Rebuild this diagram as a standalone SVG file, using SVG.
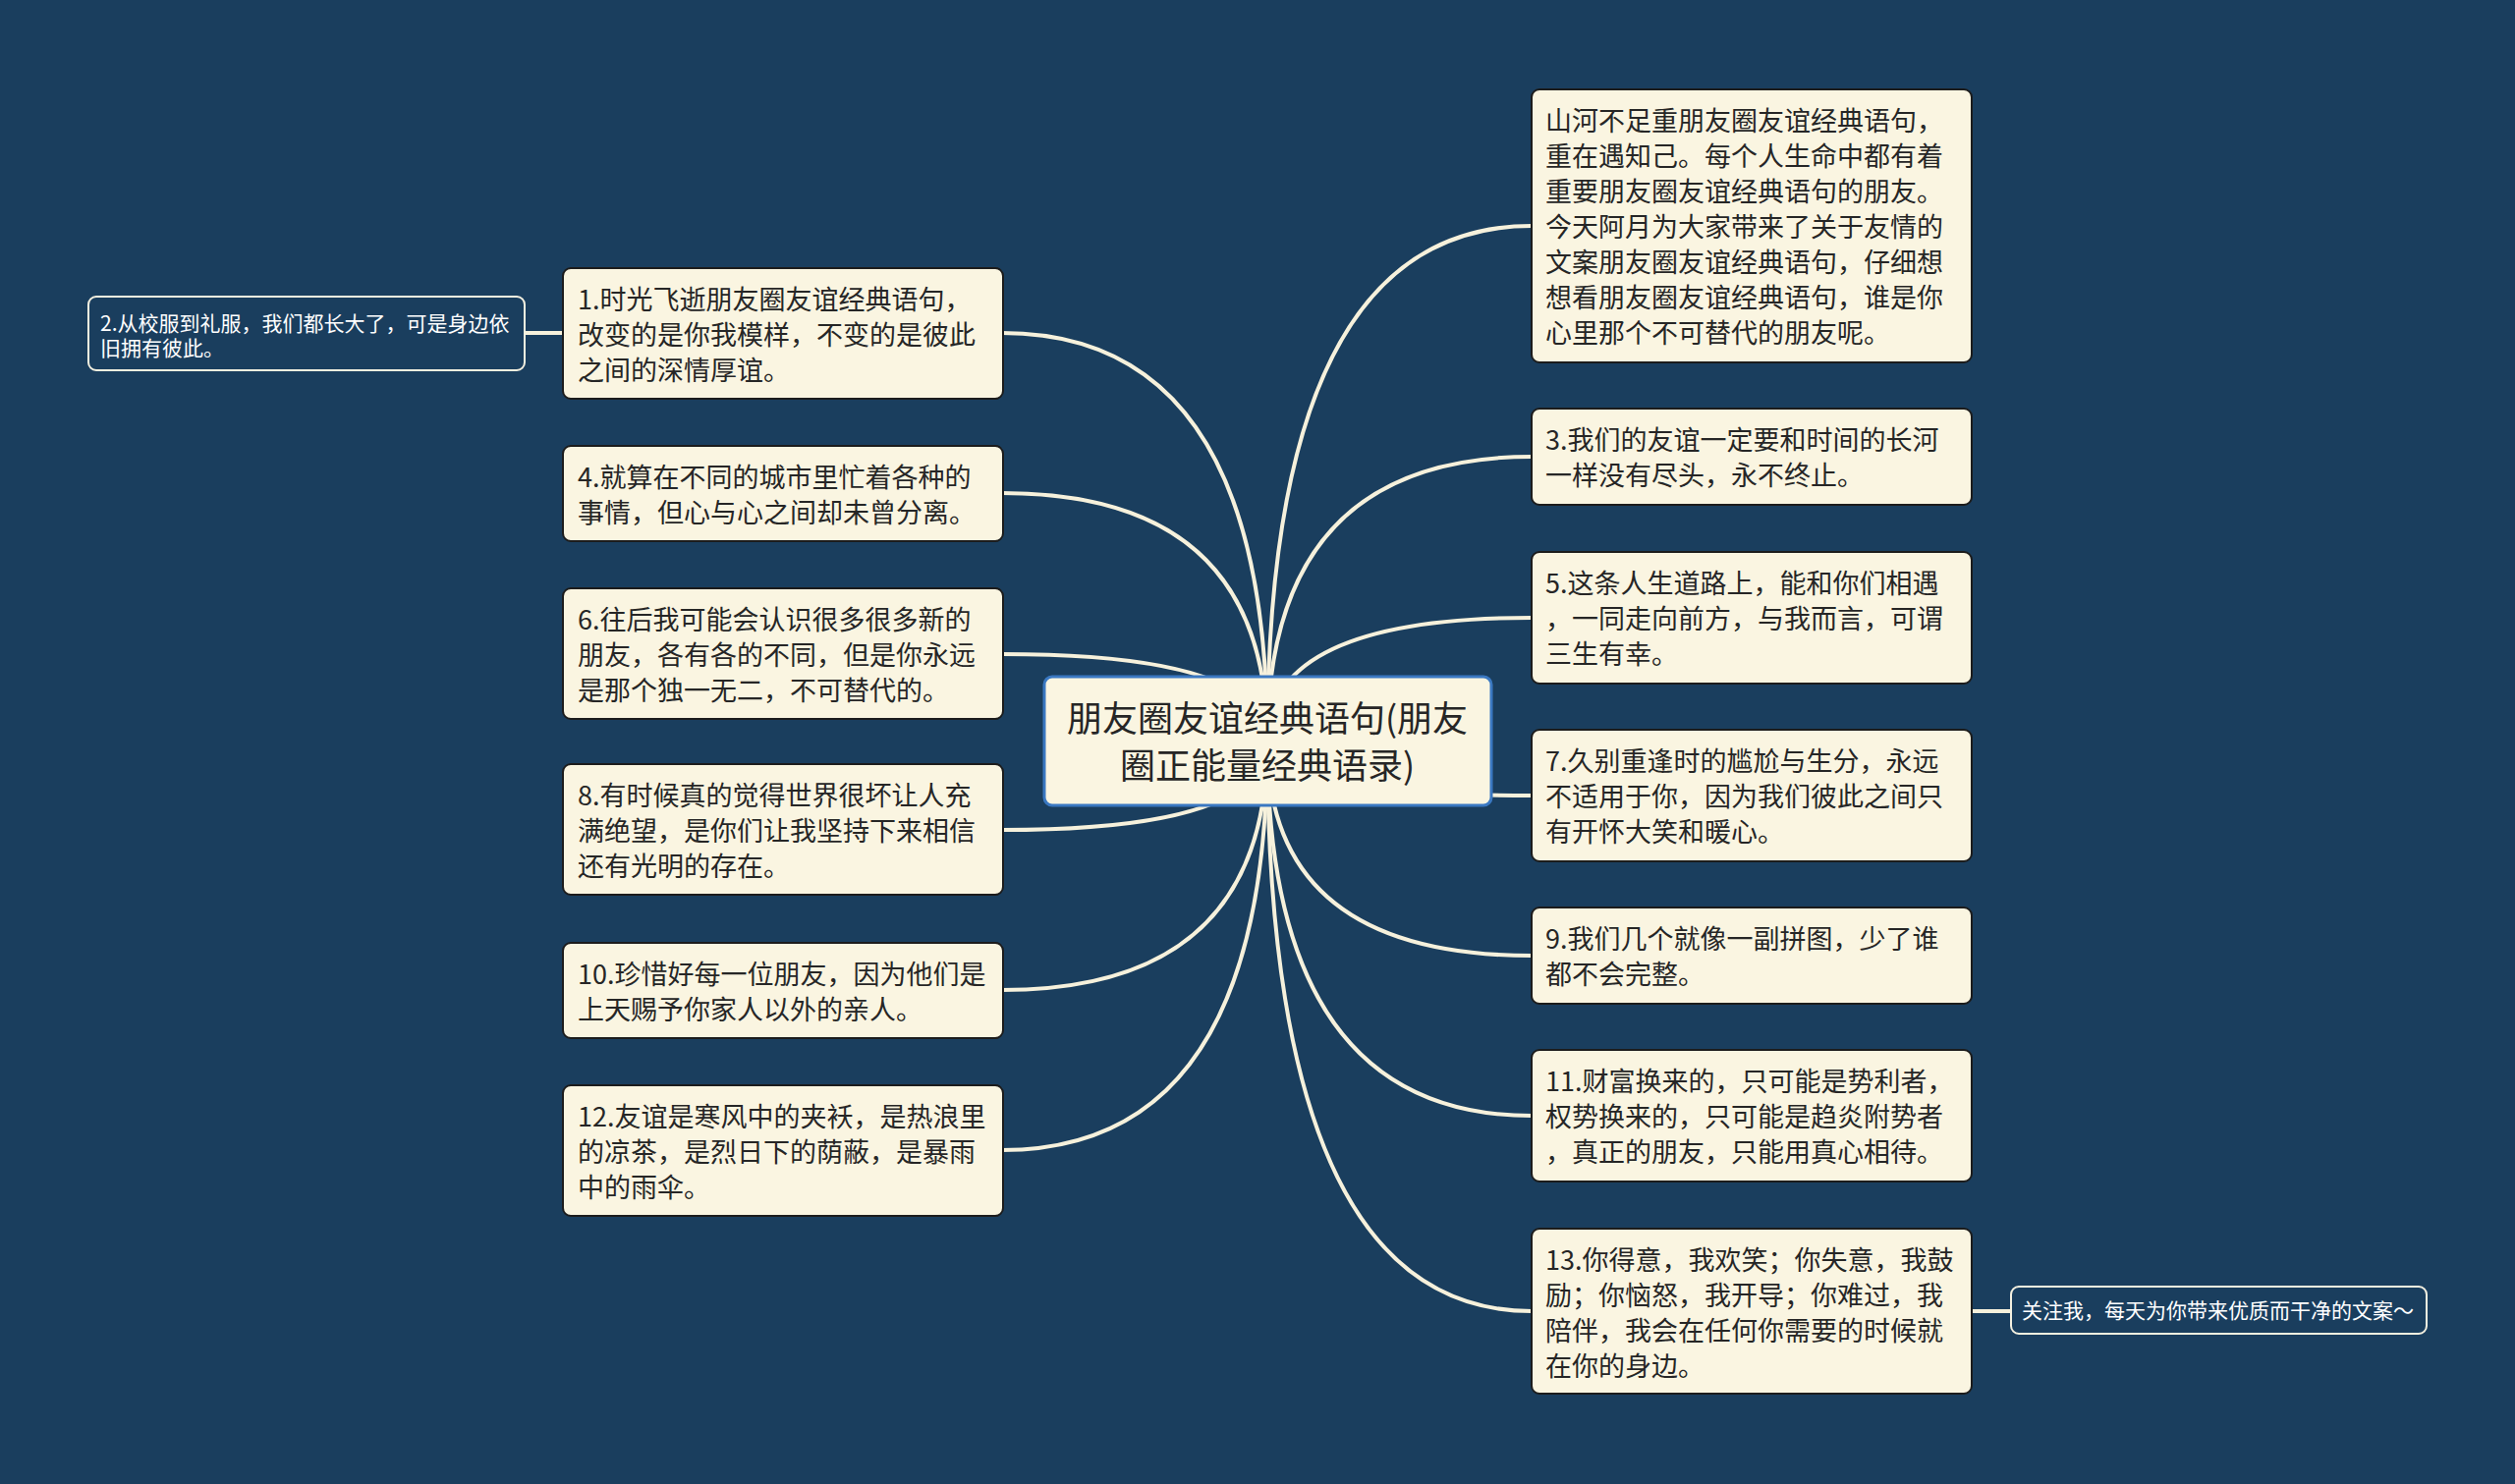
<svg xmlns="http://www.w3.org/2000/svg" width="2560" height="1511" viewBox="0 0 2560 1511">
<style>
.bg{fill:#1a3e5e}
.card{fill:#faf5e1;stroke:#1c1c1c;stroke-width:2}
.root{fill:#faf5e1;stroke:#3a78c2;stroke-width:3}
.ghost{fill:#1a3e5e;stroke:#f4f0e0;stroke-width:2}
.t{font-family:"Noto Sans CJK SC","Noto Sans",sans-serif;font-size:27px;fill:#262626}
.tr{font-family:"Noto Sans CJK SC","Noto Sans",sans-serif;font-size:36px;fill:#262626;text-anchor:middle}
.tw{font-family:"Noto Sans CJK SC","Noto Sans",sans-serif;font-size:21px;fill:#ffffff}
.c{fill:none;stroke:#f6f1dc;stroke-width:4;stroke-linecap:round}
</style>
<rect class="bg" x="0" y="0" width="2560" height="1511"/>
<g id="connectors">
<path class="c" d="M1020,339 Q1290,339 1290,755"/>
<path class="c" d="M1020,502 Q1290,502 1290,755"/>
<path class="c" d="M1020,666 Q1290,666 1290,755"/>
<path class="c" d="M1020,845 Q1290,845 1290,755"/>
<path class="c" d="M1020,1008 Q1290,1008 1290,755"/>
<path class="c" d="M1020,1171 Q1290,1171 1290,755"/>
<path class="c" d="M1559,230 Q1290,230 1290,755"/>
<path class="c" d="M1559,465 Q1290,465 1290,755"/>
<path class="c" d="M1559,629 Q1290,629 1290,755"/>
<path class="c" d="M1559,810 Q1290,810 1290,755"/>
<path class="c" d="M1559,973 Q1290,973 1290,755"/>
<path class="c" d="M1559,1136 Q1290,1136 1290,755"/>
<path class="c" d="M1559,1335 Q1290,1335 1290,755"/>
<path class="c" d="M534,339 L573,339"/>
<path class="c" d="M2007,1335 L2047,1335"/>
</g>
<g id="root">
<rect class="root" x="1063" y="689" width="455" height="131" rx="8"/>
<text class="tr" x="1290" y="745">朋友圈友谊经典语句(朋友</text>
<text class="tr" x="1290" y="793">圈正能量经典语录)</text>
</g>
<g id="n0">
<rect class="card" x="1559" y="91" width="448" height="278" rx="8"/>
<text class="t" x="1573"><tspan x="1573" y="133">山河不足重朋友圈友谊经典语句，</tspan><tspan x="1573" y="169">重在遇知己。每个人生命中都有着</tspan><tspan x="1573" y="205">重要朋友圈友谊经典语句的朋友。</tspan><tspan x="1573" y="241">今天阿月为大家带来了关于友情的</tspan><tspan x="1573" y="277">文案朋友圈友谊经典语句，仔细想</tspan><tspan x="1573" y="313">想看朋友圈友谊经典语句，谁是你</tspan><tspan x="1573" y="349">心里那个不可替代的朋友呢。</tspan></text>
</g>
<g id="n3">
<rect class="card" x="1559" y="416" width="448" height="98" rx="8"/>
<text class="t"><tspan x="1573" y="458">3.我们的友谊一定要和时间的长河</tspan><tspan x="1573" y="494">一样没有尽头，永不终止。</tspan></text>
</g>
<g id="n5">
<rect class="card" x="1559" y="562" width="448" height="134" rx="8"/>
<text class="t"><tspan x="1573" y="604">5.这条人生道路上，能和你们相遇</tspan><tspan x="1573" y="640">，一同走向前方，与我而言，可谓</tspan><tspan x="1573" y="676">三生有幸。</tspan></text>
</g>
<g id="n7">
<rect class="card" x="1559" y="743" width="448" height="134" rx="8"/>
<text class="t"><tspan x="1573" y="785">7.久别重逢时的尴尬与生分，永远</tspan><tspan x="1573" y="821">不适用于你，因为我们彼此之间只</tspan><tspan x="1573" y="857">有开怀大笑和暖心。</tspan></text>
</g>
<g id="n9">
<rect class="card" x="1559" y="924" width="448" height="98" rx="8"/>
<text class="t"><tspan x="1573" y="966">9.我们几个就像一副拼图，少了谁</tspan><tspan x="1573" y="1002">都不会完整。</tspan></text>
</g>
<g id="n11">
<rect class="card" x="1559" y="1069" width="448" height="134" rx="8"/>
<text class="t"><tspan x="1573" y="1111">11.财富换来的，只可能是势利者，</tspan><tspan x="1573" y="1147">权势换来的，只可能是趋炎附势者</tspan><tspan x="1573" y="1183">，真正的朋友，只能用真心相待。</tspan></text>
</g>
<g id="n13">
<rect class="card" x="1559" y="1251" width="448" height="168" rx="8"/>
<text class="t"><tspan x="1573" y="1293">13.你得意，我欢笑；你失意，我鼓</tspan><tspan x="1573" y="1329">励；你恼怒，我开导；你难过，我</tspan><tspan x="1573" y="1365">陪伴，我会在任何你需要的时候就</tspan><tspan x="1573" y="1401">在你的身边。</tspan></text>
</g>
<g id="follow">
<rect class="ghost" x="2047" y="1310" width="423" height="48" rx="8"/>
<text class="tw" x="2058" y="1342">关注我，每天为你带来优质而干净的文案～</text>
</g>
<g id="n1">
<rect class="card" x="573" y="273" width="448" height="133" rx="8"/>
<text class="t"><tspan x="588" y="315">1.时光飞逝朋友圈友谊经典语句，</tspan><tspan x="588" y="351">改变的是你我模样，不变的是彼此</tspan><tspan x="588" y="387">之间的深情厚谊。</tspan></text>
</g>
<g id="n2">
<rect class="ghost" x="90" y="302" width="444" height="75" rx="8"/>
<text class="tw"><tspan x="102" y="337">2.从校服到礼服，我们都长大了，可是身边依</tspan><tspan x="102" y="362">旧拥有彼此。</tspan></text>
</g>
<g id="n4">
<rect class="card" x="573" y="454" width="448" height="97" rx="8"/>
<text class="t"><tspan x="588" y="496">4.就算在不同的城市里忙着各种的</tspan><tspan x="588" y="532">事情，但心与心之间却未曾分离。</tspan></text>
</g>
<g id="n6">
<rect class="card" x="573" y="599" width="448" height="133" rx="8"/>
<text class="t"><tspan x="588" y="641">6.往后我可能会认识很多很多新的</tspan><tspan x="588" y="677">朋友，各有各的不同，但是你永远</tspan><tspan x="588" y="713">是那个独一无二，不可替代的。</tspan></text>
</g>
<g id="n8">
<rect class="card" x="573" y="778" width="448" height="133" rx="8"/>
<text class="t"><tspan x="588" y="820">8.有时候真的觉得世界很坏让人充</tspan><tspan x="588" y="856">满绝望，是你们让我坚持下来相信</tspan><tspan x="588" y="892">还有光明的存在。</tspan></text>
</g>
<g id="n10">
<rect class="card" x="573" y="960" width="448" height="97" rx="8"/>
<text class="t"><tspan x="588" y="1002">10.珍惜好每一位朋友，因为他们是</tspan><tspan x="588" y="1038">上天赐予你家人以外的亲人。</tspan></text>
</g>
<g id="n12">
<rect class="card" x="573" y="1105" width="448" height="133" rx="8"/>
<text class="t"><tspan x="588" y="1147">12.友谊是寒风中的夹袄，是热浪里</tspan><tspan x="588" y="1183">的凉茶，是烈日下的荫蔽，是暴雨</tspan><tspan x="588" y="1219">中的雨伞。</tspan></text>
</g>
</svg>
